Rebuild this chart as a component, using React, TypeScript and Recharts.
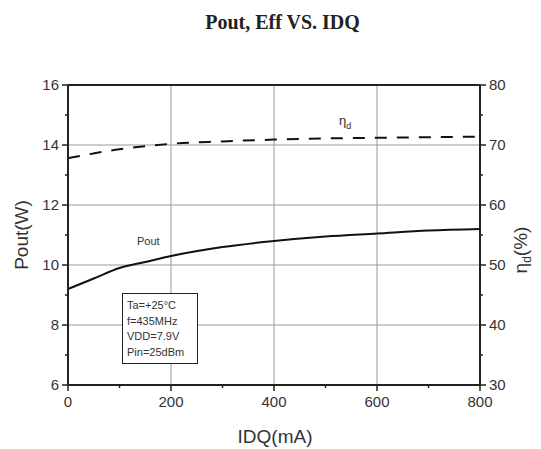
import React from 'react';
import { LineChart, Line, XAxis, YAxis, CartesianGrid, ReferenceLine } from 'recharts';

const idq = [0, 50, 100, 150, 200, 300, 400, 500, 600, 700, 800];
const pout = [9.2, 9.55, 9.9, 10.1, 10.3, 10.6, 10.8, 10.95, 11.05, 11.15, 11.2];
const eff = [67.8, 68.6, 69.3, 69.8, 70.2, 70.6, 70.9, 71.1, 71.2, 71.3, 71.4];

const xTicks = [0, 100, 200, 300, 400, 500, 600, 700, 800];
const xMajor = [0, 200, 400, 600, 800];
const leftTicks = [6, 7, 8, 9, 10, 11, 12, 13, 14, 15, 16];
const leftMajor = [6, 8, 10, 12, 14, 16];
const rightTicks = [30, 35, 40, 45, 50, 55, 60, 65, 70, 75, 80];
const rightMajor = [30, 40, 50, 60, 70, 80];
const conditions = ['Ta=+25\u00B0C', 'f=435MHz', 'VDD=7.9V', 'Pin=25dBm'];

const data = idq.map((x, i) => ({ idq: x, pout: pout[i], eff: eff[i] }));

const TS = 6;
const TM = 3;
const AX = '#222';
const TXT = '#333';
const SANS = '"Liberation Sans", Arial, sans-serif';

const LeftTick = (p: any) => {
  const { x, y, payload } = p;
  const major = leftMajor.includes(payload.value);
  const ax = x + TS + TM;
  return (
    <g>
      <line x1={ax} x2={ax - (major ? 6 : 3)} y1={y} y2={y} stroke={AX} strokeWidth={1.5} />
      {major && (
        <text x={x} y={y} dy={5} textAnchor="end" fontSize={15} fill={TXT} fontFamily={SANS}>
          {payload.value}
        </text>
      )}
    </g>
  );
};

const RightTick = (p: any) => {
  const { x, y, payload } = p;
  const major = rightMajor.includes(payload.value);
  const ax = x - TS - TM;
  return (
    <g>
      <line x1={ax} x2={ax + (major ? 6 : 3)} y1={y} y2={y} stroke={AX} strokeWidth={1.5} />
      {major && (
        <text x={x} y={y} dy={5} textAnchor="start" fontSize={15} fill={TXT} fontFamily={SANS}>
          {payload.value}
        </text>
      )}
    </g>
  );
};

const BottomTick = (p: any) => {
  const { x, y, payload } = p;
  const major = xMajor.includes(payload.value);
  const ay = y - TS - TM;
  return (
    <g>
      <line x1={x} x2={x} y1={ay} y2={ay + (major ? 6 : 3)} stroke={AX} strokeWidth={1.5} />
      {major && (
        <text x={x} y={y} dy={13} textAnchor="middle" fontSize={15} fill={TXT} fontFamily={SANS}>
          {payload.value}
        </text>
      )}
    </g>
  );
};

export default function App() {
  return (
    <div style={{ position: 'absolute', left: 0, top: 0, width: 541, height: 449, background: '#fff' }}>
      <LineChart
        width={541}
        height={449}
        data={data}
        margin={{ top: 85, right: 0, bottom: 0, left: 0 }}
      >
        <CartesianGrid
          yAxisId="left"
          stroke="#999"
          strokeWidth={1}
          horizontalValues={[8, 10, 12, 14]}
          verticalValues={[200, 400, 600]}
        />
        <XAxis
          dataKey="idq"
          type="number"
          domain={[0, 800]}
          ticks={xTicks}
          interval={0}
          height={64}
          tickSize={TS}
          tickMargin={TM}
          tickLine={false}
          tick={<BottomTick />}
          axisLine={{ stroke: AX, strokeWidth: 2 }}
        />
        <YAxis
          yAxisId="left"
          orientation="left"
          type="number"
          domain={[6, 16]}
          ticks={leftTicks}
          interval={0}
          width={68}
          tickSize={TS}
          tickMargin={TM}
          tickLine={false}
          tick={<LeftTick />}
          axisLine={{ stroke: AX, strokeWidth: 2 }}
        />
        <YAxis
          yAxisId="right"
          orientation="right"
          type="number"
          domain={[30, 80]}
          ticks={rightTicks}
          interval={0}
          width={61}
          tickSize={TS}
          tickMargin={TM}
          tickLine={false}
          tick={<RightTick />}
          axisLine={{ stroke: AX, strokeWidth: 2 }}
        />
        <ReferenceLine yAxisId="left" y={16} stroke={AX} strokeWidth={2} />
        <Line
          yAxisId="left"
          type="monotone"
          dataKey="pout"
          stroke="#111"
          strokeWidth={2}
          dot={false}
          isAnimationActive={false}
        />
        <Line
          yAxisId="right"
          type="monotone"
          dataKey="eff"
          stroke="#111"
          strokeWidth={2}
          strokeDasharray="12 10"
          dot={false}
          isAnimationActive={false}
        />
      </LineChart>

      <div style={{ position: 'absolute', left: 0, top: 11, width: 565, textAlign: 'center', fontFamily: '"Liberation Serif", "Times New Roman", serif', fontWeight: 'bold', fontSize: 20, color: '#222' }}>
        Pout, Eff VS. IDQ
      </div>

      <div style={{ position: 'absolute', left: 22, top: 235, transform: 'translate(-50%, -50%) rotate(-90deg)', fontFamily: SANS, fontSize: 19, color: TXT, whiteSpace: 'nowrap' }}>
        Pout(W)
      </div>
      <div style={{ position: 'absolute', left: 275, top: 437, transform: 'translate(-50%, -50%)', fontFamily: SANS, fontSize: 19, color: TXT, whiteSpace: 'nowrap' }}>
        IDQ(mA)
      </div>
      <div style={{ position: 'absolute', left: 522, top: 250, transform: 'translate(-50%, -50%) rotate(-90deg)', fontFamily: SANS, fontSize: 19, color: TXT, whiteSpace: 'nowrap' }}>
        {'\u03B7'}<sub style={{ fontSize: 12 }}>d</sub>(%)
      </div>

      <div style={{ position: 'absolute', left: 137, top: 235, fontFamily: SANS, fontSize: 11, color: TXT }}>Pout</div>
      <div style={{ position: 'absolute', left: 339, top: 113, fontFamily: SANS, fontSize: 13, color: TXT }}>
        {'\u03B7'}<sub style={{ fontSize: 9 }}>d</sub>
      </div>

      <div style={{ position: 'absolute', left: 122, top: 293, width: 76, height: 71, border: '1.5px solid #222', background: '#fff', fontFamily: SANS, fontSize: 11, color: TXT, padding: '4px 0 0 4px', boxSizing: 'border-box', lineHeight: '15.5px' }}>
        {conditions.map((c) => (
          <div key={c} style={{ whiteSpace: 'nowrap' }}>{c}</div>
        ))}
      </div>
    </div>
  );
}
